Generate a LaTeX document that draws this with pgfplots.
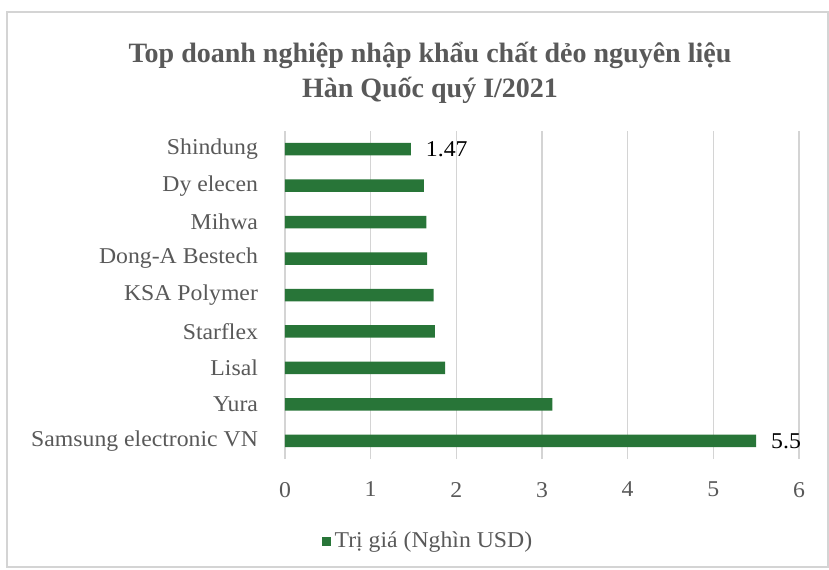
\documentclass[border=0pt]{standalone}
\usepackage{fontspec}
\setmainfont{Liberation Serif}[FakeStretch=1.05]
\newfontfamily\titlefont{Liberation Serif}
\usepackage{pgfplots}
\pgfplotsset{compat=1.18}
\definecolor{bargreen}{RGB}{40,117,56}
\definecolor{txtgray}{RGB}{89,89,89}
\definecolor{gridgray}{RGB}{212,212,212}
\begin{document}
\begin{tikzpicture}
\useasboundingbox (0,0) rectangle (414.5pt,284.5pt);
\fill[white] (0,0) rectangle (414.5pt,284.5pt);
\draw[gridgray, line width=0.8pt] (3.5pt,1pt) rectangle (414pt,278.5pt);
\node[align=center, font=\titlefont\fontsize{14}{17.5}\selectfont\bfseries, text=txtgray] at (215pt,248pt)
  {Top doanh nghiệp nhập khẩu chất dẻo nguyên liệu\\Hàn Quốc quý I/2021};
\begin{axis}[
  at={(142.5pt,55pt)}, anchor=south west,
  scale only axis, width=257pt, height=164pt,
  xbar, bar width=6.25pt, bar shift=0pt,
  xmin=0, xmax=6, ymin=-0.5, ymax=8.5,
  xtick={0,1,2,3,4,5,6},
  ytick={0,1,2,3,4,5,6,7,8},
  yticklabels={Samsung electronic VN, Yura, Lisal, Starflex, KSA Polymer, Dong-A Bestech, Mihwa, Dy elecen, Shindung},
  axis line style={draw=none},
  major tick length=0pt,
  xmajorgrids, grid style={gridgray, line width=0.8pt},
  tick label style={font=\fontsize{11.3}{13}\selectfont, text=txtgray},
  /pgf/number format/assume math mode=true,
  yticklabel style={xshift=-10pt},
  xticklabel style={yshift=-8pt},
  legend style={draw=none, fill=none, at={(0.28,-0.25)}, anchor=center,
    font=\fontsize{11.3}{13}\selectfont, text=txtgray},
  legend image code/.code={\fill[bargreen] (0pt,-2.25pt) rectangle (4.5pt,2.25pt);},
]
\addplot[fill=bargreen, draw=none] coordinates {
  (5.5,0) (3.12,1) (1.87,2) (1.75,3) (1.735,4) (1.66,5) (1.65,6) (1.62,7) (1.47,8)
};
\addlegendentry{Trị giá (Nghìn USD)}
\addplot[draw=none, fill=none, forget plot,
  nodes near coords, point meta=explicit symbolic,
  every node near coord/.append style={anchor=west, xshift=4pt, font=\fontsize{11.3}{13}\selectfont, text=black}]
  coordinates {(5.5,0) [5.5] (1.47,8) [1.47]};
\end{axis}
\end{tikzpicture}
\end{document}
